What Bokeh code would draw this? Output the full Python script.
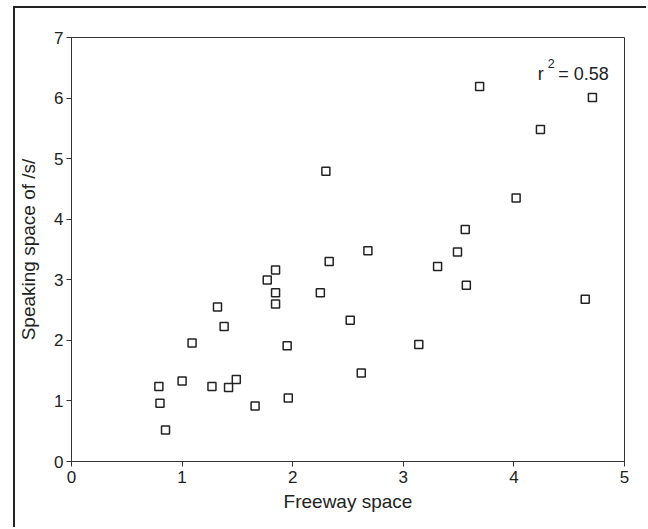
from bokeh.plotting import figure
from bokeh.models import Label, FixedTicker, Range1d
from bokeh.embed import file_html
from bokeh.resources import INLINE

# Data
freeway = [0.79, 0.80, 0.85, 1.00, 1.09, 1.27, 1.32, 1.38, 1.42, 1.49, 1.66,
           1.77, 1.845, 1.845, 1.845, 1.95, 1.96, 2.25, 2.30, 2.33, 2.52, 2.62,
           2.68, 3.14, 3.31, 3.49, 3.56, 3.57, 3.69, 4.02, 4.24, 4.645, 4.71]
speaking = [1.24, 0.96, 0.52, 1.33, 1.955, 1.24, 2.55, 2.23, 1.22, 1.354, 0.915,
            2.995, 3.16, 2.785, 2.60, 1.91, 1.05, 2.785, 4.79, 3.30, 2.33, 1.46,
            3.48, 1.93, 3.22, 3.46, 3.83, 2.91, 6.19, 4.35, 5.48, 2.68, 6.01]
x_ticks = [0, 1, 2, 3, 4, 5]
y_ticks = [0, 1, 2, 3, 4, 5, 6, 7]
r2_text = "= 0.58"

FONT = "Liberation Sans"
INK = "#222222"

p = figure(width=633, height=521, output_backend="svg", toolbar_location=None,
           x_range=Range1d(0, 5), y_range=Range1d(0, 7),
           min_border_left=55, min_border_top=29, min_border_right=24,
           min_border_bottom=68)
# outer panel frame (left and top edges are visible in the reference)
p.margin = (6, 0, 0, 13)
p.styles = {"border-left": "2px solid #222", "border-top": "2px solid #222"}

p.grid.visible = False
p.outline_line_color = "#333333"
p.outline_line_width = 1

p.scatter(freeway, speaking, marker="square", size=8, fill_color=None,
          line_color=INK, line_width=1.5)

for ax in (p.xaxis[0], p.yaxis[0]):
    ax.axis_line_color = "#333333"
    ax.major_tick_line_color = "#333333"
    ax.minor_tick_line_color = None
    ax.major_tick_in = 0
    ax.major_tick_out = 5
    ax.major_label_text_font = FONT
    ax.major_label_text_font_size = "17px"
    ax.major_label_text_color = INK
    ax.axis_label_text_font = FONT
    ax.axis_label_text_font_size = "19px"
    ax.axis_label_text_font_style = "normal"
    ax.axis_label_text_color = INK

p.xaxis.ticker = FixedTicker(ticks=x_ticks)
p.yaxis.ticker = FixedTicker(ticks=y_ticks)
p.xaxis.axis_label = "Freeway space"
p.yaxis.axis_label = "Speaking space of /s/"
p.xaxis.major_label_standoff = 4
p.yaxis.major_label_standoff = 3
p.xaxis.axis_label_standoff = 5
p.yaxis.axis_label_standoff = 12

p.add_layout(Label(x=4.215, y=6.40, text="r", text_font=FONT,
                   text_font_size="18px", text_color=INK,
                   text_baseline="alphabetic"))
p.add_layout(Label(x=4.305, y=6.566, text="2", text_font=FONT,
                   text_font_size="12.5px", text_color=INK,
                   text_baseline="alphabetic"))
p.add_layout(Label(x=4.40, y=6.40, text=r2_text, text_font=FONT,
                   text_font_size="18px", text_color=INK,
                   text_baseline="alphabetic"))

open("out.html", "w").write(file_html(p, INLINE))
